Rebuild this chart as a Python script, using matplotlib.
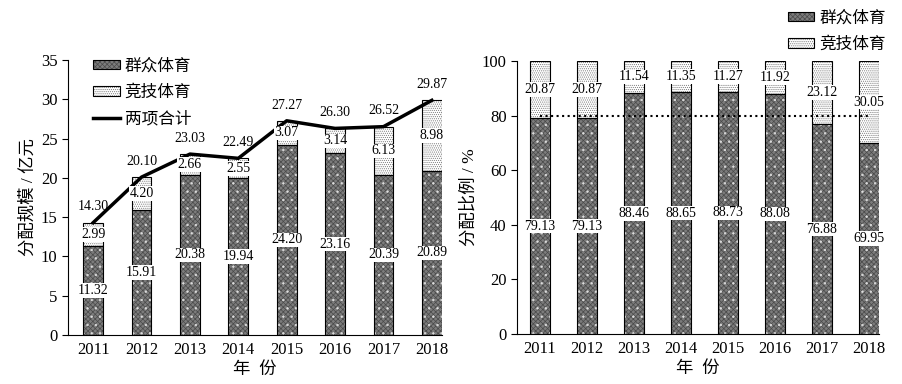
import matplotlib
matplotlib.use("Agg")
import matplotlib.pyplot as plt
from matplotlib.patches import Patch
from matplotlib.lines import Line2D
from matplotlib.legend_handler import HandlerTuple

years = ["2011", "2012", "2013", "2014", "2015", "2016", "2017", "2018"]
mass = [11.32, 15.91, 20.38, 19.94, 24.20, 23.16, 20.39, 20.89]
comp = [2.99, 4.20, 2.66, 2.55, 3.07, 3.14, 6.13, 8.98]
total = [14.30, 20.10, 23.03, 22.49, 27.27, 26.30, 26.52, 29.87]
mass_pct = [79.13, 79.13, 88.46, 88.65, 88.73, 88.08, 76.88, 69.95]
comp_pct = [20.87, 20.87, 11.54, 11.35, 11.27, 11.92, 23.12, 30.05]

plt.rcParams['font.family'] = ['Liberation Serif', 'Noto Sans CJK SC']
plt.rcParams['hatch.linewidth'] = 0.5

MASS_FACE = '#7c7c7c'
MASS_HATCH = '#4a4a4a'
COMP_HATCH = '#777777'
label_box = dict(boxstyle='square,pad=0.05', fc='white', ec='none')


def stacked_bars(ax, x, low, high, width):
    # mass part: gray crosshatch with white dots
    ax.bar(x, low, width, color=MASS_FACE, edgecolor=MASS_HATCH, hatch='xxxxxxx', lw=0, zorder=2)
    ax.bar(x, low, width, fill=False, edgecolor='#dddddd', hatch='..', lw=0, zorder=2)
    ax.bar(x, low, width, fill=False, edgecolor='black', lw=0.8, zorder=3)
    # competitive part: white with grey dots
    ax.bar(x, high, width, bottom=low, color='white', edgecolor=COMP_HATCH, hatch='........', lw=0, zorder=2)
    ax.bar(x, high, width, bottom=low, fill=False, edgecolor='black', lw=0.8, zorder=3)


def style_axes(ax):
    for s in ['top', 'right']:
        ax.spines[s].set_visible(False)
    ax.tick_params(axis='y', direction='out', length=4, labelsize=12)
    ax.tick_params(axis='x', length=0, labelsize=12, pad=5)
    ax.set_xlabel('年  份', fontsize=12.5, labelpad=3)


mass_handle = (Patch(facecolor=MASS_FACE, edgecolor=MASS_HATCH, hatch='xxxxxxx', lw=0),
               Patch(fill=False, edgecolor='black', lw=0.8))
comp_handle = (Patch(facecolor='white', edgecolor=COMP_HATCH, hatch='........', lw=0),
               Patch(fill=False, edgecolor='black', lw=0.8))
tuple_handler = {tuple: HandlerTuple(ndivide=1, pad=0)}

fig = plt.figure(figsize=(9.02, 3.84), dpi=100)
ax1 = fig.add_axes([0.0754, 0.1276, 0.4146, 0.716])
ax2 = fig.add_axes([0.5732, 0.130, 0.4013, 0.711])

x = list(range(len(years)))

# left: amounts
stacked_bars(ax1, x, mass, comp, 0.41)
ax1.plot(x, total, color='black', lw=2.5, zorder=4)
for i in x:
    ax1.text(i, mass[i] / 2, f"{mass[i]:.2f}", ha='center', va='center', fontsize=10, bbox=label_box, zorder=5)
    ax1.text(i, mass[i] + comp[i] / 2, f"{comp[i]:.2f}", ha='center', va='center', fontsize=10, bbox=label_box, zorder=5)
    ax1.text(i, total[i] + 2.0, f"{total[i]:.2f}", ha='center', va='center', fontsize=10, zorder=5)
ax1.set_xlim(-0.52, 7.21)
ax1.set_ylim(0, 35)
ax1.set_yticks(range(0, 36, 5))
ax1.set_xticks(x)
ax1.set_xticklabels(years)
ax1.set_ylabel('分配规模 / 亿元', fontsize=12.5, labelpad=3)
style_axes(ax1)
ax1.legend([mass_handle, comp_handle, Line2D([], [], color='black', lw=2.5)],
           ['群众体育', '竞技体育', '两项合计'],
           handler_map=tuple_handler,
           loc='upper left', bbox_to_anchor=(0.027, 1.06), frameon=False, fontsize=12,
           handlelength=1.6, handleheight=0.5, handletextpad=0.3, labelspacing=0.62)

# right: shares
stacked_bars(ax2, x, mass_pct, comp_pct, 0.42)
ax2.plot([0, 7], [80, 80], color='black', ls=':', lw=1.5, zorder=4)
for i in x:
    ax2.text(i, mass_pct[i] / 2, f"{mass_pct[i]:.2f}", ha='center', va='center', fontsize=10, bbox=label_box, zorder=5)
    ax2.text(i, mass_pct[i] + comp_pct[i] / 2, f"{comp_pct[i]:.2f}", ha='center', va='center', fontsize=10, bbox=label_box, zorder=5)
ax2.set_xlim(-0.49, 7.22)
ax2.set_ylim(0, 100)
ax2.set_yticks(range(0, 101, 20))
ax2.set_xticks(x)
ax2.set_xticklabels(years)
ax2.set_ylabel('分配比例 / %', fontsize=12.5, labelpad=3)
style_axes(ax2)
ax2.legend([mass_handle, comp_handle], ['群众体育', '竞技体育'],
           handler_map=tuple_handler,
           loc='lower right', bbox_to_anchor=(1.06, 0.975), frameon=False, fontsize=12,
           handlelength=1.6, handleheight=0.5, handletextpad=0.3, labelspacing=0.62)

fig.savefig('out.png', dpi=100)
